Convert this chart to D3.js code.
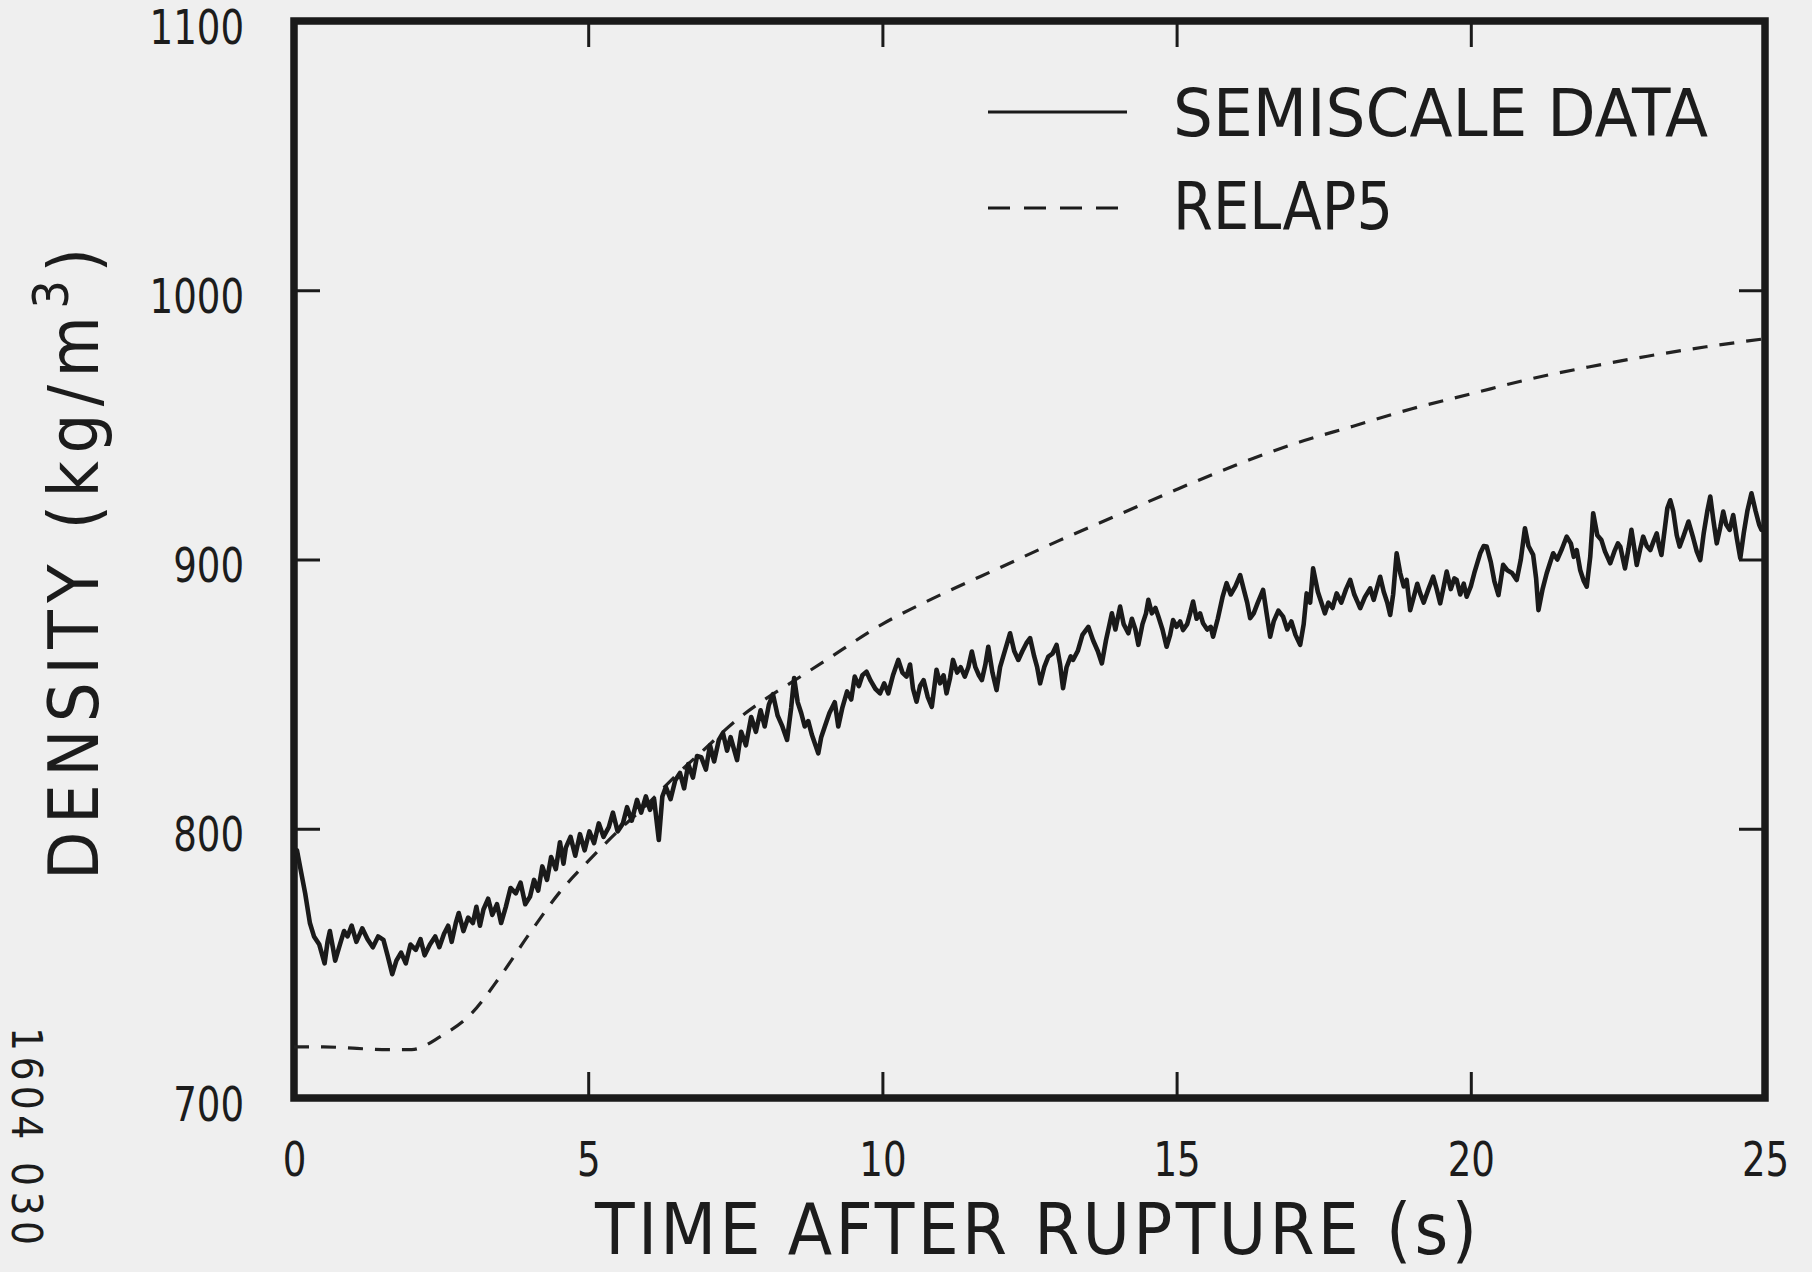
<!DOCTYPE html>
<html>
<head>
<meta charset="utf-8">
<script src="https://cdn.jsdelivr.net/npm/d3@7"></script>
<style>
  body { margin: 0; background: #efefef; }
  text {
    font-family: "DejaVu Sans Condensed", "Liberation Sans Narrow", "DejaVu Sans", sans-serif;
    font-stretch: condensed;
    fill: #1c1c1c;
  }
</style>
</head>
<body>
<div id="chart"></div>
<script>
const width = 1812;
const height = 1272;
// plot frame, in page pixels
const frame = { left: 294, right: 1765, top: 21, bottom: 1098 };
const ink = "#1a1a1a";

// axes
const xTicks = [0, 5, 10, 15, 20, 25];
const yTicks = [700, 800, 900, 1000, 1100];

// RELAP5 calculation (dashed)
const relapTime = [0, 0.5, 1, 1.5, 2, 2.5, 3, 3.5, 4, 4.5, 5, 5.5, 6, 6.5, 7, 7.5, 8, 8.5, 9, 10,
  11, 12, 13, 14, 15, 16, 17, 18, 19, 20, 21, 22, 23, 24, 25];
const relapDensity = [719, 719, 718.5, 718, 718, 723, 731, 745, 761, 776, 788, 799, 809, 820, 830, 840, 848, 855, 862, 876,
  887, 897, 907, 916.5, 926, 935, 943, 949.5, 956, 961.5, 967, 971.5, 975.5, 979, 982];

// semiscale measurement (solid) [time s, density kg/m3]
const semiscaleData = [
  [0.00, 790], [0.05, 792], [0.12, 784], [0.19, 776], [0.27, 765], [0.34, 760], [0.43, 757], [0.52, 750],
  [0.57, 758], [0.61, 762], [0.66, 756], [0.70, 751], [0.78, 757], [0.85, 762], [0.91, 760], [0.98, 764],
  [1.06, 758], [1.16, 763], [1.25, 759], [1.34, 756], [1.43, 760], [1.52, 758.7], [1.59, 753], [1.67, 746],
  [1.74, 751], [1.82, 754], [1.90, 750], [1.98, 757], [2.07, 755], [2.15, 759], [2.22, 753], [2.31, 757],
  [2.40, 760], [2.47, 756], [2.55, 761], [2.62, 764], [2.68, 758], [2.75, 765], [2.80, 768.7], [2.88, 762],
  [2.96, 767], [3.04, 765], [3.10, 771], [3.16, 764], [3.22, 770], [3.30, 774], [3.37, 768], [3.45, 772],
  [3.52, 765], [3.60, 771], [3.68, 778], [3.77, 776], [3.85, 780], [3.93, 772], [4.01, 774.7], [4.08, 781],
  [4.15, 777], [4.22, 786], [4.30, 781], [4.37, 789.5], [4.45, 785], [4.52, 795], [4.58, 787], [4.62, 793],
  [4.70, 797], [4.78, 790], [4.86, 798], [4.94, 792], [5.02, 799], [5.10, 794.7], [5.18, 802], [5.26, 797],
  [5.35, 800.6], [5.42, 806], [5.50, 799], [5.59, 802], [5.66, 808], [5.74, 803], [5.83, 810.7], [5.90, 806],
  [5.98, 812], [6.05, 807], [6.12, 811], [6.20, 795.8], [6.26, 812], [6.32, 815.5], [6.40, 811], [6.48, 818],
  [6.56, 820.7], [6.63, 815], [6.70, 824], [6.78, 819], [6.85, 827], [6.92, 826.6], [7.00, 822], [7.07, 831],
  [7.14, 825], [7.22, 833], [7.29, 835.6], [7.36, 829], [7.42, 834], [7.53, 825.5], [7.60, 836], [7.68, 831],
  [7.77, 841.5], [7.85, 836], [7.93, 844], [8.00, 838], [8.07, 846], [8.14, 850], [8.22, 842], [8.30, 838],
  [8.38, 833], [8.45, 845], [8.50, 856], [8.56, 847], [8.62, 843], [8.68, 838], [8.74, 840], [8.80, 835],
  [8.91, 828], [8.96, 834], [9.02, 837.9], [9.10, 843], [9.19, 847], [9.25, 838], [9.32, 845], [9.40, 851],
  [9.47, 848], [9.53, 856.5], [9.60, 853], [9.66, 857], [9.73, 858.3], [9.80, 855], [9.88, 852], [9.96, 850.3],
  [10.03, 854], [10.10, 850.3], [10.18, 857], [10.27, 862.7], [10.34, 858], [10.41, 856.5], [10.47, 861], [10.52, 852],
  [10.58, 847.2], [10.64, 853], [10.70, 855.2], [10.77, 849], [10.84, 845.3], [10.92, 859], [10.98, 854], [11.04, 857],
  [11.09, 850.3], [11.15, 856], [11.20, 862.7], [11.27, 858], [11.33, 860], [11.40, 856.5], [11.46, 860], [11.52, 865.8],
  [11.58, 860], [11.64, 857], [11.69, 855.2], [11.75, 861], [11.80, 867.6], [11.87, 858], [11.94, 851.5], [12.00, 860],
  [12.08, 866], [12.17, 872.6], [12.24, 866], [12.31, 862.7], [12.38, 866], [12.45, 869], [12.51, 870.8], [12.58, 864],
  [12.63, 860], [12.68, 854], [12.75, 860], [12.82, 863.9], [12.89, 865], [12.96, 868.3], [13.02, 861], [13.07, 852.2],
  [13.13, 860], [13.20, 864], [13.24, 862.7], [13.32, 866], [13.40, 872], [13.50, 875], [13.58, 870], [13.66, 866],
  [13.73, 861.4], [13.80, 870], [13.86, 876], [13.90, 880], [13.96, 874], [14.04, 882.5], [14.10, 876], [14.18, 872.6],
  [14.24, 878], [14.30, 874], [14.35, 868.3], [14.42, 876], [14.48, 880], [14.52, 885], [14.58, 880], [14.64, 882],
  [14.69, 878.8], [14.76, 874], [14.83, 867.6], [14.89, 872], [14.94, 877.5], [15.00, 875], [15.06, 877], [15.11, 873.8],
  [15.18, 876], [15.23, 880], [15.28, 884.4], [15.34, 878], [15.40, 880], [15.45, 876.3], [15.52, 874], [15.58, 875],
  [15.62, 871.3], [15.70, 878], [15.78, 886], [15.85, 891.2], [15.92, 887], [16.00, 890], [16.08, 894.2], [16.14, 889],
  [16.20, 884], [16.25, 878.2], [16.31, 880], [16.38, 884], [16.47, 888.7], [16.53, 880], [16.59, 871.3], [16.65, 877],
  [16.73, 881], [16.81, 878.8], [16.88, 874], [16.95, 877], [17.02, 872], [17.10, 868.3], [17.16, 876], [17.21, 887.4],
  [17.27, 884], [17.32, 896.7], [17.40, 888], [17.46, 884], [17.52, 880], [17.58, 884], [17.65, 882], [17.72, 887.4],
  [17.80, 884], [17.88, 889], [17.95, 892.4], [18.02, 887], [18.08, 884], [18.12, 881.9], [18.20, 886], [18.29, 889.3],
  [18.35, 885], [18.40, 889], [18.46, 893.6], [18.52, 888], [18.58, 884], [18.63, 879.4], [18.68, 887], [18.74, 902.3],
  [18.80, 895], [18.86, 890], [18.91, 892.4], [18.97, 881.2], [19.03, 886], [19.09, 891], [19.14, 887.4], [19.20, 884],
  [19.28, 889], [19.36, 893.6], [19.42, 889], [19.48, 883.7], [19.54, 890], [19.59, 895.5], [19.66, 889], [19.72, 893],
  [19.76, 892.4], [19.82, 887], [19.88, 891], [19.93, 886.2], [20.00, 890], [20.06, 895], [20.16, 902.3], [20.22, 905],
  [20.27, 904.8], [20.34, 899], [20.40, 892], [20.47, 886.8], [20.55, 898], [20.62, 896], [20.70, 895], [20.78, 892.4],
  [20.85, 900], [20.92, 911.6], [20.98, 905], [21.06, 901.7], [21.11, 893], [21.15, 881.2], [21.22, 889], [21.29, 894.9],
  [21.35, 899], [21.40, 902.3], [21.47, 900], [21.55, 904], [21.63, 908.5], [21.70, 906], [21.75, 901], [21.80, 903.5],
  [21.86, 896], [21.92, 892], [21.97, 889.9], [22.03, 901], [22.08, 917.2], [22.15, 909], [22.22, 907.2], [22.28, 903],
  [22.37, 898.6], [22.44, 903], [22.50, 906], [22.54, 904.8], [22.62, 896.7], [22.68, 904], [22.73, 911], [22.78, 904],
  [22.82, 898], [22.88, 904], [22.93, 908.5], [22.99, 905], [23.05, 903.5], [23.11, 907], [23.16, 909.7], [23.20, 905],
  [23.24, 901.7], [23.30, 912], [23.34, 919], [23.39, 922], [23.44, 918], [23.50, 909], [23.55, 904.8], [23.62, 909],
  [23.70, 914.1], [23.78, 908], [23.84, 903], [23.90, 899.8], [23.96, 910], [24.02, 918], [24.07, 923.4], [24.12, 915],
  [24.18, 906], [24.24, 912], [24.29, 917.8], [24.34, 913], [24.40, 911], [24.46, 916.5], [24.52, 908], [24.58, 900.5],
  [24.64, 910], [24.70, 918], [24.77, 924.6], [24.84, 918], [24.90, 913], [24.94, 911], [25.00, 912]
];

const legendLabels = ["SEMISCALE DATA", "RELAP5"];

let svg = d3
  .select("#chart")
  .append("svg")
  .attr("width", width)
  .attr("height", height)
  .style("display", "block")
  .style("background", "#efefef");

let x = d3.scaleLinear().domain([0, 25]).range([frame.left, frame.right]);
let y = d3.scaleLinear().domain([700, 1100]).range([frame.bottom, frame.top]);

svg.append("clipPath").attr("id", "plot-clip")
  .append("rect")
  .attr("x", frame.left).attr("y", frame.top)
  .attr("width", frame.right - frame.left)
  .attr("height", frame.bottom - frame.top);

// inward ticks on all four sides
const tickLen = 26;
function styleAxis(g) {
  g.select(".domain").remove();
  g.selectAll(".tick line").attr("stroke", ink).attr("stroke-width", 3);
  g.selectAll(".tick text")
    .attr("fill", "#1c1c1c")
    .style("font-size", "48px")
    .each(function () {
      // squeeze the digits, the lettering on the plot is narrow
      let w = this.getComputedTextLength();
      if (w > 0) {
        d3.select(this).attr("textLength", w * 0.86).attr("lengthAdjust", "spacingAndGlyphs");
      }
    });
}

svg.append("g")
  .attr("transform", `translate(0,${frame.bottom})`)
  .call(d3.axisBottom(x).tickValues(xTicks).tickSize(-tickLen).tickPadding(44).tickFormat(d3.format("d")))
  .call(styleAxis);

svg.append("g")
  .attr("transform", `translate(0,${frame.top})`)
  .call(d3.axisTop(x).tickValues(xTicks.slice(1, -1)).tickSize(-tickLen).tickFormat(""))
  .call(styleAxis);

svg.append("g")
  .attr("transform", `translate(${frame.left},0)`)
  .call(d3.axisLeft(y).tickValues(yTicks).tickSize(-tickLen).tickPadding(50).tickFormat(d3.format("d")))
  .call(styleAxis)
  .selectAll(".tick text")
  .attr("dy", "0.46em");

svg.append("g")
  .attr("transform", `translate(${frame.right},0)`)
  .call(d3.axisRight(y).tickValues(yTicks.slice(1, -1)).tickSize(-tickLen).tickFormat(""))
  .call(styleAxis);

// heavy frame
svg.append("rect")
  .attr("x", frame.left).attr("y", frame.top)
  .attr("width", frame.right - frame.left)
  .attr("height", frame.bottom - frame.top)
  .attr("fill", "none")
  .attr("stroke", ink)
  .attr("stroke-width", 7.5);

// curves
svg.append("path")
  .datum(relapTime.map((t, i) => [t, relapDensity[i]]))
  .attr("clip-path", "url(#plot-clip)")
  .attr("fill", "none")
  .attr("stroke", "#222")
  .attr("stroke-width", 3.2)
  .attr("stroke-dasharray", "15,12")
  .attr("d", d3.line().x((d) => x(d[0])).y((d) => y(d[1])).curve(d3.curveMonotoneX));

svg.append("path")
  .datum(semiscaleData)
  .attr("clip-path", "url(#plot-clip)")
  .attr("fill", "none")
  .attr("stroke", ink)
  .attr("stroke-width", 4.6)
  .attr("stroke-linejoin", "round")
  .attr("d", d3.line().x((d) => x(d[0])).y((d) => y(d[1])));

// legend
let legend = svg.append("g");
legend.append("line")
  .attr("x1", 988).attr("x2", 1127).attr("y1", 112).attr("y2", 112)
  .attr("stroke", ink).attr("stroke-width", 3);
legend.append("line")
  .attr("x1", 988).attr("x2", 1127).attr("y1", 208).attr("y2", 208)
  .attr("stroke", ink).attr("stroke-width", 3)
  .attr("stroke-dasharray", "22,14");
legend.append("text")
  .attr("x", 1173).attr("y", 136)
  .attr("textLength", 535).attr("lengthAdjust", "spacingAndGlyphs")
  .style("font-size", "66px")
  .text(legendLabels[0]);
legend.append("text")
  .attr("x", 1173).attr("y", 229)
  .attr("textLength", 220).attr("lengthAdjust", "spacingAndGlyphs")
  .style("font-size", "66px")
  .text(legendLabels[1]);

// axis titles
svg.append("text")
  .attr("x", 595).attr("y", 1254)
  .attr("textLength", 882).attr("lengthAdjust", "spacing")
  .style("font-size", "72px")
  .text("TIME AFTER RUPTURE (s)");

let yTitle = svg.append("text")
  .attr("transform", "translate(98,880) rotate(-90)")
  .attr("textLength", 632).attr("lengthAdjust", "spacing")
  .style("font-size", "70px")
  .text("DENSITY (kg/m");
yTitle.append("tspan").attr("dy", -30).style("font-size", "50px").text("3");
yTitle.append("tspan").attr("dy", 30).text(")");

// scanned report number along the left edge
svg.append("text")
  .attr("transform", "translate(12,1027) rotate(90)")
  .attr("textLength", 218).attr("lengthAdjust", "spacing")
  .style("font-size", "42px")
  .attr("fill", "#333")
  .text("1604 030");
</script>
</body>
</html>
